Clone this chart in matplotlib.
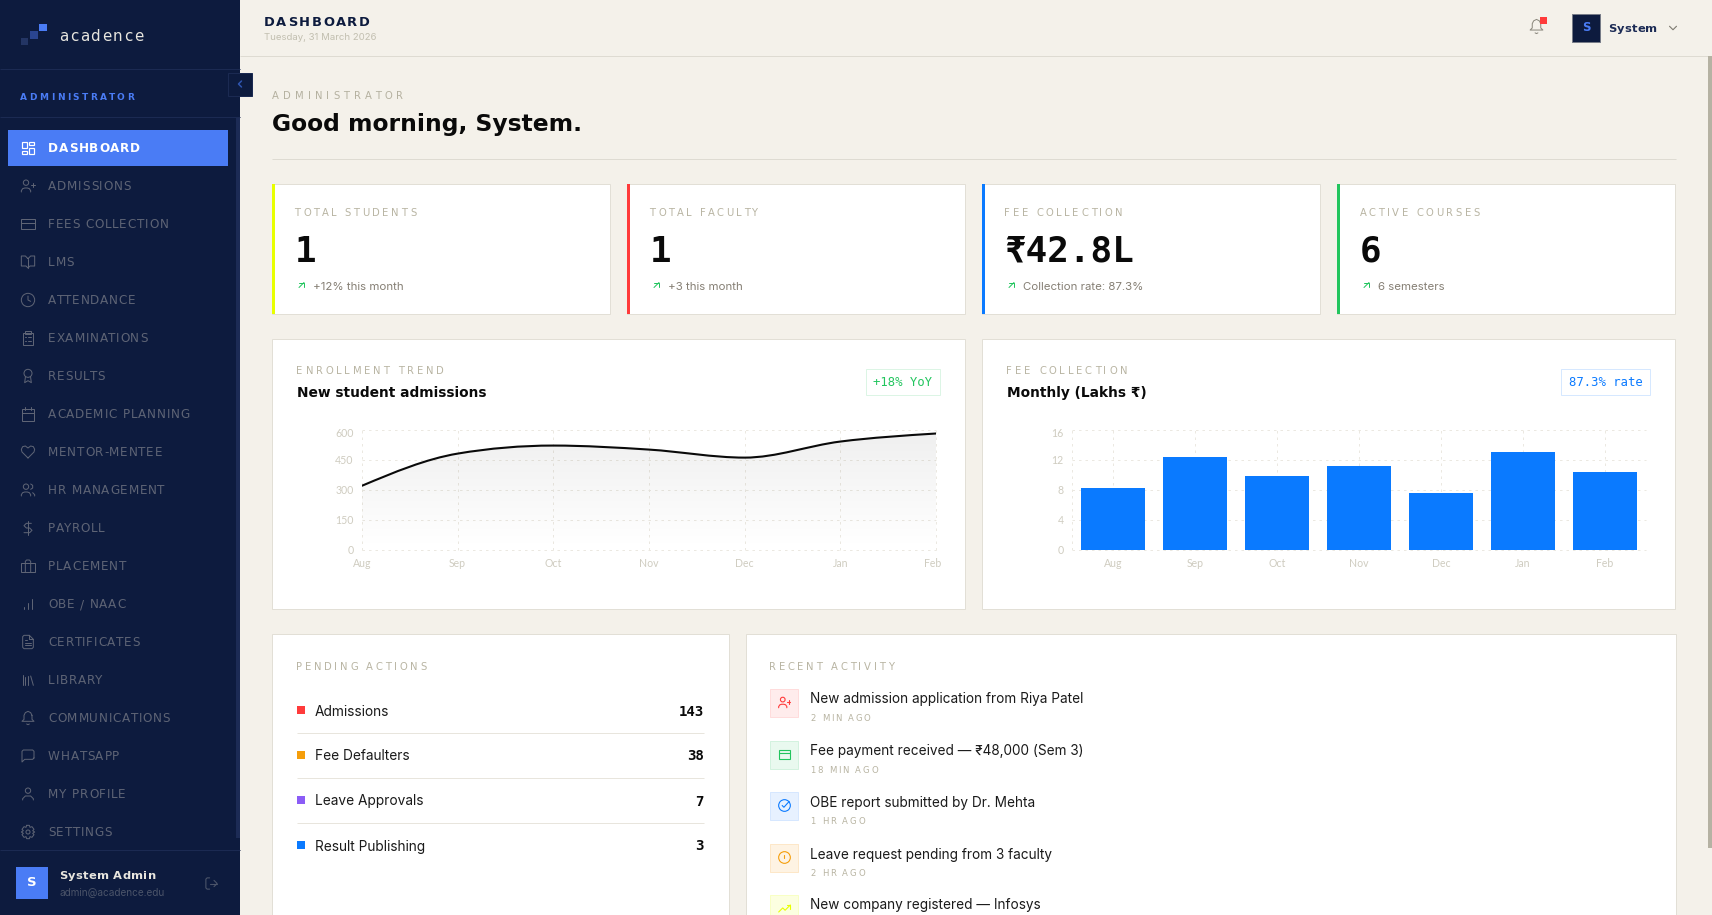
import numpy as np
import matplotlib
matplotlib.use('Agg')
import matplotlib.pyplot as plt
from matplotlib.patches import Rectangle, Circle, PathPatch
from matplotlib.path import Path
from matplotlib.text import Text
from matplotlib.transforms import ScaledTranslation

W, H = 1712, 915

### chart data
months = ['Aug', 'Sep', 'Oct', 'Nov', 'Dec', 'Jan', 'Feb']
admissions = [320, 480, 520, 500, 460, 540, 580]
fee_lakhs = [8.2, 12.4, 9.8, 11.1, 7.6, 13.0, 10.4]
admission_ticks = [0, 150, 300, 450, 600]
fee_ticks = [0, 4, 8, 12, 16]

nav_items = ['DASHBOARD', 'ADMISSIONS', 'FEES COLLECTION', 'LMS', 'ATTENDANCE', 'EXAMINATIONS',
             'RESULTS', 'ACADEMIC PLANNING', 'MENTOR-MENTEE', 'HR MANAGEMENT', 'PAYROLL', 'PLACEMENT',
             'OBE / NAAC', 'CERTIFICATES', 'LIBRARY', 'COMMUNICATIONS', 'WHATSAPP', 'MY PROFILE', 'SETTINGS']
nav_icons = ['dash', 'userplus', 'card', 'book', 'clock', 'clip', 'award', 'cal', 'heart', 'users',
             'dollar', 'case', 'bars', 'file', 'lib', 'bell', 'msg', 'user', 'gear']

kpi_labels = ['TOTAL STUDENTS', 'TOTAL FACULTY', 'FEE COLLECTION', 'ACTIVE COURSES']
kpi_values = ['1', '1', '₹42.8L', '6']
kpi_notes = ['+12% this month', '+3 this month', 'Collection rate: 87.3%', '6 semesters']
kpi_colors = ['#e8ff00', '#ff3b3b', '#0a7aff', '#22c55e']

pending_labels = ['Admissions', 'Fee Defaulters', 'Leave Approvals', 'Result Publishing']
pending_counts = [143, 38, 7, 3]
pending_colors = ['#ff3b3b', '#f59e0b', '#8b5cf6', '#0a7aff']

activity_text = ['New admission application from Riya Patel', 'Fee payment received — ₹48,000 (Sem 3)',
                 'OBE report submitted by Dr. Mehta', 'Leave request pending from 3 faculty',
                 'New company registered — Infosys']
activity_time = ['2 MIN AGO', '18 MIN AGO', '1 HR AGO', '2 HR AGO', '']
activity_icons = ['userplus', 'card', 'check', 'alert', 'trend']
activity_colors = ['#ff3b3b', '#22c55e', '#0a7aff', '#f59e0b', '#e8ff00']
activity_fill = ['#ffecec', '#e9f9ef', '#e7f1ff', '#fef3e3', '#fcffe0']
activity_edge = ['#ffdcdc', '#d3f2df', '#d6e7ff', '#fde7c8', '#f8ffc4']

NAVY = '#0d1b3e'
PAGE = '#f4f1ea'
BORDER = '#e2dfd6'
GRID = '#ebe8e1'
WIDE = ['DejaVu Sans', 'Noto Sans']
BODY = ['Inter', 'Noto Sans', 'DejaVu Sans']
MONO = ['DejaVu Sans Mono', 'DejaVu Sans', 'Noto Sans']
TICK = ['Lato', 'DejaVu Sans']

# icons on a 24 unit grid
ICONS = {
    'dash': [('r', 3, 3, 7, 9), ('r', 14, 3, 7, 5), ('r', 14, 12, 7, 9), ('r', 3, 16, 7, 5)],
    'userplus': [('c', 9, 7, 4), ('l', (2, 21), (2, 19), (4, 16), (7, 15), (11, 15), (14, 16), (16, 19), (16, 21)),
                 ('l', (19, 8), (19, 14)), ('l', (16, 11), (22, 11))],
    'card': [('r', 2, 5, 20, 14), ('l', (2, 10), (22, 10))],
    'book': [('l', (12, 7), (12, 21)), ('l', (12, 7), (8, 3), (2, 3), (2, 18), (9, 18), (12, 21), (15, 18), (22, 18), (22, 3), (16, 3), (12, 7))],
    'clock': [('c', 12, 12, 10), ('l', (12, 6), (12, 12), (16, 14))],
    'clip': [('r', 4, 4, 16, 18), ('r', 8, 2, 8, 4), ('l', (12, 11), (16, 11)), ('l', (12, 16), (16, 16)), ('l', (8, 11), (9, 11)), ('l', (8, 16), (9, 16))],
    'award': [('c', 12, 8, 6), ('l', (8.2, 13), (7, 22), (12, 19), (17, 22), (15.8, 13))],
    'cal': [('r', 3, 4, 18, 18), ('l', (16, 2), (16, 6)), ('l', (8, 2), (8, 6)), ('l', (3, 10), (21, 10))],
    'heart': [('l', (12, 21), (3, 12), (2, 8), (4, 4), (8, 3), (12, 6), (16, 3), (20, 4), (22, 8), (21, 12), (12, 21))],
    'users': [('c', 9, 7, 4), ('l', (2, 21), (2, 19), (4, 16), (7, 15), (11, 15), (14, 16), (16, 19), (16, 21)),
              ('l', (16, 3), (19, 5), (19, 9), (16, 11)), ('l', (22, 21), (22, 19), (19, 16))],
    'dollar': [('l', (12, 1), (12, 23)), ('l', (17, 5), (9.5, 5), (6, 8.5), (9.5, 12), (14.5, 12), (18, 15.5), (14.5, 19), (6, 19))],
    'case': [('r', 2, 7, 20, 14), ('l', (16, 21), (16, 5), (14, 3), (10, 3), (8, 5), (8, 21))],
    'bars': [('l', (12, 20), (12, 10)), ('l', (18, 20), (18, 4)), ('l', (6, 20), (6, 16))],
    'file': [('l', (14, 2), (6, 2), (4, 4), (4, 20), (6, 22), (18, 22), (20, 20), (20, 8), (14, 2)), ('l', (14, 2), (14, 8), (20, 8)),
             ('l', (8, 13), (16, 13)), ('l', (8, 17), (16, 17)), ('l', (8, 9), (10, 9))],
    'lib': [('l', (16, 6), (20, 20)), ('l', (12, 6), (12, 20)), ('l', (8, 8), (8, 20)), ('l', (4, 4), (4, 20))],
    'bell': [('l', (18, 8), (16, 4), (12, 2), (8, 4), (6, 8), (6, 14), (3, 17), (21, 17), (18, 14), (18, 8)), ('l', (10, 21), (12, 22), (14, 21))],
    'msg': [('l', (21, 15), (19, 17), (7, 17), (3, 21), (3, 5), (5, 3), (19, 3), (21, 5), (21, 15))],
    'user': [('c', 12, 7, 4), ('l', (20, 21), (20, 19), (16, 15), (8, 15), (4, 19), (4, 21))],
    'gear': [('c', 12, 12, 3), ('l', (10, 2), (14, 2), (15, 5), (18, 4), (21, 8), (19, 10), (22, 12), (19, 14), (21, 16), (18, 20), (15, 19), (14, 22), (10, 22), (9, 19), (6, 20), (3, 16), (5, 14), (2, 12), (5, 10), (3, 8), (6, 4), (9, 5), (10, 2))],
    'check': [('c', 12, 12, 10), ('l', (8, 12), (11, 15), (20, 5))],
    'alert': [('c', 12, 12, 10), ('l', (12, 7), (12, 13)), ('l', (12, 16), (12, 17))],
    'trend': [('l', (2, 18), (9, 11), (13, 15), (22, 6)), ('l', (16, 6), (22, 6), (22, 12))],
    'arrow': [('l', (7, 17), (17, 7)), ('l', (8, 7), (17, 7), (17, 16))],
    'logout': [('l', (9, 3), (5, 3), (3, 5), (3, 19), (5, 21), (9, 21)), ('l', (9, 12), (21, 12)), ('l', (16, 7), (21, 12), (16, 17))],
    'down': [('l', (6, 9), (12, 15), (18, 9))],
    'left': [('l', (15, 18), (9, 12), (15, 6))],
}


class TrackedText(Text):
    # text with letter spacing, matplotlib has no option for it
    def __init__(self, x, y, text, tracking=0, **kw):
        super().__init__(x, y, text, **kw)
        self.tracking = tracking

    def draw(self, renderer):
        gc = renderer.new_gc()
        gc.set_foreground(self.get_color())
        gc.set_antialiased(True)
        fp = self.get_fontproperties()
        px, py = self.get_transform().transform(self.get_position())
        cap = renderer.get_text_width_height_descent('H', fp, False)[1]
        s = self.get_text()
        for i, ch in enumerate(s):
            adv = renderer.get_text_width_height_descent(s[:i], fp, False)[0] if i else 0
            renderer.draw_text(gc, px + adv + i * self.tracking, renderer.height - (py - cap / 2), ch, fp, 0)
        gc.restore()


fig = plt.figure(figsize=(W / 100, H / 100), dpi=100, facecolor=PAGE)
ax = fig.add_axes([0, 0, 1, 1])
ax.set_xlim(0, W)
ax.set_ylim(H, 0)
ax.axis('off')


def txt(x, y, s, size, color, family=BODY, weight='normal', ha='left'):
    ax.text(x, y, s, fontsize=size * 0.72, color=color, family=family, weight=weight, ha=ha, va='center_baseline', zorder=4)


def spaced(x, y, s, size, color, tracking, weight='normal', family=WIDE):
    ax.add_artist(TrackedText(x, y, s, tracking=tracking, fontsize=size * 0.72, color=color, family=family,
                              weight=weight, transform=ax.transData))


def box(x0, y0, x1, y1, fc, ec='none', lw=1.0, z=1):
    ax.add_patch(Rectangle((x0, y0), x1 - x0, y1 - y0, facecolor=fc, edgecolor=ec, linewidth=lw * 0.72, zorder=z))


def rule(x0, x1, y, color, z=3):
    ax.plot([x0, x1], [y, y], color=color, lw=0.72, zorder=z, solid_capstyle='butt')


def icon(name, x, y, size, color, lw=1.1):
    # x, y is the top left corner in pixels
    k = size / 24
    for part in ICONS[name]:
        if part[0] == 'r':
            ax.add_patch(Rectangle((x + part[1] * k, y + part[2] * k), part[3] * k, part[4] * k, fill=False, ec=color, lw=lw * 0.72, zorder=5))
        elif part[0] == 'c':
            ax.add_patch(Circle((x + part[1] * k, y + part[2] * k), part[3] * k, fill=False, ec=color, lw=lw * 0.72, zorder=5))
        else:
            pts = np.array(part[1:])
            ax.plot(x + pts[:, 0] * k, y + pts[:, 1] * k, color=color, lw=lw * 0.72, zorder=5, solid_capstyle='round')


def chart_axes(x0, y0, x1, y1):
    a = fig.add_axes([x0 / W, 1 - y1 / H, (x1 - x0) / W, (y1 - y0) / H], facecolor='none')
    for sp in a.spines.values():
        sp.set_visible(False)
    a.set_axisbelow(True)
    a.grid(True, color=GRID, lw=0.72, ls=(0, (2.5, 4)))
    a.tick_params(length=0, pad=6)
    return a


def monotone_path(x, y):
    # same curve as a monotone X line, as bezier segments
    x = np.asarray(x, float)
    y = np.asarray(y, float)
    h = np.diff(x)
    s = np.diff(y) / h
    m = np.zeros(len(x))
    for i in range(1, len(x) - 1):
        p = (s[i - 1] * h[i] + s[i] * h[i - 1]) / (h[i - 1] + h[i])
        m[i] = (np.sign(s[i - 1]) + np.sign(s[i])) * min(abs(s[i - 1]), abs(s[i]), 0.5 * abs(p))
    m[0] = (3 * s[0] - m[1]) / 2
    m[-1] = (3 * s[-1] - m[-2]) / 2
    verts = [(x[0], y[0])]
    codes = [Path.MOVETO]
    for i in range(len(x) - 1):
        d = h[i] / 3
        verts += [(x[i] + d, y[i] + m[i] * d), (x[i + 1] - d, y[i + 1] - m[i + 1] * d), (x[i + 1], y[i + 1])]
        codes += [Path.CURVE4] * 3
    return verts, codes


### sidebar
box(0, 0, 240, H, NAVY, z=1)
box(236, 117, 240, 838, '#1c2b55', z=2)
for yy in [68.5, 117, 850]:
    rule(0, 240, yy, '#1b2a52')
box(21, 38, 28, 45, '#233564', z=3)
box(30, 31, 38, 39, '#2a4590', z=3)
box(39, 24, 47, 31, '#4a7cf5', z=3)
spaced(59, 35, 'acadence', 15, '#e8e6df', 1.6)
spaced(20, 96, 'ADMINISTRATOR', 9, '#4a7cf5', 2.45, weight='bold')
box(228.5, 72.5, 252, 95.5, NAVY, '#1b2a52', z=4)
icon('left', 234, 78, 12, '#2f55b0', lw=1.5)
box(8, 130, 228, 166, '#4a7cf5', z=3)
for i, (name, ic) in enumerate(zip(nav_items, nav_icons)):
    yc = 148 + 38 * i
    active = i == 0
    col = '#ffffff' if active else '#5e6475'
    icon(ic, 20, yc - 8, 16, col, lw=1.2 if active else 1.0)
    spaced(48, yc, name, 12, col, 0.8, weight='bold' if active else 'normal')
box(16, 867, 48, 899, '#4a7cf5', z=3)
ax.text(32, 883, 'S', fontsize=9.5, color='white', family=WIDE, weight='bold', ha='center', va='center', zorder=5)
spaced(59.5, 875, 'System Admin', 11.5, '#e8e6df', 0.25, weight='bold')
txt(60, 892, 'admin@acadence.edu', 10, '#4b5469')
icon('logout', 204, 876, 15, '#4b5469', lw=1.1)

### header
rule(240, W, 55.5, '#dedbd2', z=2)
spaced(264, 21, 'DASHBOARD', 13, NAVY, 1.6, weight='bold')
txt(264, 37, 'Tuesday, 31 March 2026', 9.6, '#c2bfb0')
icon('bell', 1528, 18, 17, '#8a877c', lw=1.0)
box(1540, 17, 1547, 24, '#ff3b3b', z=6)
box(1572.5, 13.5, 1600.5, 41.5, NAVY, '#777c88', z=3)
ax.text(1586.5, 27.5, 'S', fontsize=8.5, color='#4a7cf5', family=WIDE, weight='bold', ha='center', va='center', zorder=5)
spaced(1608.5, 27.5, 'System', 11.5, '#1c2b55', 0.15, weight='bold')
icon('down', 1666, 21, 14, '#7d7a70', lw=1.1)
box(1708, 56, 1712, 848, '#b5b2a3', z=2)

### page title
spaced(272, 95, 'ADMINISTRATOR', 10, '#b4b09f', 4.1)
txt(272, 122, 'Good morning, System.', 23.4, '#0a0a0a', family=WIDE, weight='bold')
rule(272, 1676, 159, '#dedbd2', z=2)

### kpi cards
card_left = [272.5, 627.5, 982.5, 1337.5]
for i in range(4):
    x0 = card_left[i]
    box(x0, 184, x0 + 338, 314, 'white', BORDER, z=2)
    box(x0 - 0.5, 184, x0 + 2.5, 314, kpi_colors[i], z=3)
    spaced(x0 + 22, 212, kpi_labels[i], 10, '#b8b4a2', 2.6)
    txt(x0 + 22, 248, kpi_values[i], 36, '#0a0a0a', family=MONO, weight='bold')
    icon('arrow', x0 + 23, 279, 12, kpi_colors[3], lw=1.0)
    txt(x0 + 41, 286, kpi_notes[i], 11.5, '#857f74')

### chart cards
for x0, lab, title in [(272.5, 'ENROLLMENT TREND', 'New student admissions'), (982.5, 'FEE COLLECTION', 'Monthly (Lakhs ₹)')]:
    box(x0, 339, x0 + 693, 609, 'white', BORDER, z=2)
    spaced(x0 + 24, 370, lab, 10, '#b8b4a2', 2.8)
    txt(x0 + 25, 391.5, title, 13.7, '#0a0a0a', family=WIDE, weight='bold')
box(866, 369, 940, 395, 'white', '#dcf5e5', z=3)
ax.text(903, 382, '+18% YoY', fontsize=12.2 * 0.72, color='#22c55e', family=MONO, ha='center', va='center', zorder=4)
box(1561, 369, 1650.5, 395, 'white', '#d6e8ff', z=3)
ax.text(1605.7, 382, '87.3% rate', fontsize=12.2 * 0.72, color='#0a7aff', family=MONO, ha='center', va='center', zorder=4)

### enrollment area chart
xs = np.arange(len(months))
a1 = chart_axes(362, 429.5, 936, 550)
a1.set_xlim(0, 6)
a1.set_ylim(0, 600)
a1.set_xticks(xs, months)
a1.set_yticks(admission_ticks)
verts, codes = monotone_path(xs, admissions)
area = Path(verts + [(xs[-1], 0), (xs[0], 0), (xs[0], admissions[0])], codes + [Path.LINETO, Path.LINETO, Path.LINETO])
grad = np.zeros((256, 2, 4))
grad[:, :, :3] = 0.04
grad[:, :, 3] = np.linspace(0, 0.065, 256)[:, None]
img = a1.imshow(grad, extent=[0, 6, 0, max(admissions)], origin='lower', aspect='auto', zorder=1)
img.set_clip_path(PathPatch(area, transform=a1.transData))
a1.set_xlim(0, 6)
a1.set_ylim(0, 600)
a1.add_patch(PathPatch(Path(verts, codes), fill=False, ec='#0a0a0a', lw=1.5, zorder=3, capstyle='round'))

### fee bars
a2 = chart_axes(1072, 429.5, 1646, 550)
a2.set_xlim(-0.5, 6.5)
a2.set_ylim(0, 16)
a2.set_xticks(xs, months)
a2.set_yticks(fee_ticks)
a2.axvline(-0.5, color=GRID, lw=0.72, ls=(0, (2.5, 4)))
a2.axvline(6.5, color=GRID, lw=0.72, ls=(0, (2.5, 4)))
a2.bar(xs, fee_lakhs, width=0.79, color='#0a7aff', zorder=3)

for a in (a1, a2):
    for lab in a.get_xticklabels() + a.get_yticklabels():
        lab.set_family(TICK)
        lab.set_color('#cfccc0')
        lab.set_fontsize(7.6)
    for c in a.get_xgridlines() + a.get_ygridlines():
        c.set_clip_on(False)
    # top y label sits a little lower than its grid line
    top = a.get_yticklabels()[-1]
    top.set_transform(top.get_transform() + ScaledTranslation(0, -3 / 100, fig.dpi_scale_trans))
lastx = a1.get_xticklabels()[-1]
lastx.set_transform(lastx.get_transform() + ScaledTranslation(-3.5 / 100, 0, fig.dpi_scale_trans))

### pending actions
box(272.5, 634, 729, H + 5, 'white', BORDER, z=2)
spaced(296, 666, 'PENDING ACTIONS', 10, '#b8b4a2', 2.7)
for i, (lab, n, col) in enumerate(zip(pending_labels, pending_counts, pending_colors)):
    yc = 710 + 45 * i
    box(297, yc - 4, 305, yc + 4, col, z=3)
    txt(315, yc, lab, 13.7, '#1a1a1a')
    txt(704, yc, str(n), 14, '#0a0a0a', family=MONO, weight='bold', ha='right')
    if i < 3:
        rule(297, 704, yc + 23, '#e8e5dd')

### recent activity
box(746.5, 634, 1676, H + 5, 'white', BORDER, z=2)
spaced(769, 666, 'RECENT ACTIVITY', 10, '#b8b4a2', 2.7)
rows = [688, 740, 791, 843, 894]
for i, yy in enumerate(rows):
    box(770.5, yy + 0.5, 798.5, yy + 28.5, activity_fill[i], activity_edge[i], z=3)
    icon(activity_icons[i], 777.5, yy + 7.5, 14, activity_colors[i], lw=1.1)
    txt(810, yy + 10, activity_text[i], 13.6, '#1a1a1a')
    if activity_time[i]:
        spaced(810, yy + 29.5, activity_time[i], 8.5, '#b8b4a2', 1.8)

fig.savefig('out.png', dpi=100, facecolor=PAGE)
